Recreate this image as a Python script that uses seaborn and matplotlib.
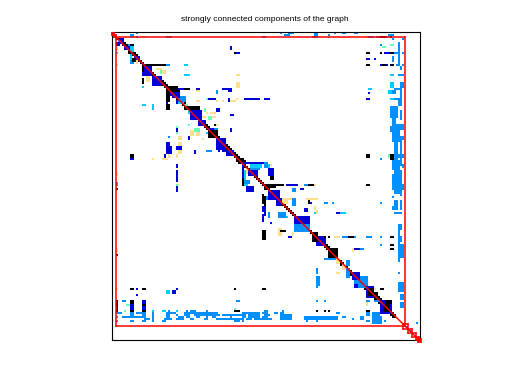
import matplotlib
matplotlib.use('Agg')
import matplotlib.pyplot as plt
from matplotlib.colors import ListedColormap
import seaborn as sns
import numpy as np

#matrix size and SCC blocks (first, last edge)
n = 154
blocks = [(0, 1), (1, 2), (2.0, 146.5), (145.6, 148), (147.9, 150), (149.9, 152), (151.9, 153.6), (153.2, 154.7)]

#black band along the diagonal, first and last column per row (-1 = none)
band_first = [-1, -1, -1, 2, 3, 4, 5, 6, 7, 8, 9, 10, 11, 12, 13, 14, 15, 16, 17, 18, 19, 20,
              21, 22, 23, 24, 25, 26, 27, 28, 29, 30, 31, 32, 33, 34, 35, 36, 37, 38, 39, 40,
              41, 42, 43, 44, 45, 46, 47, 48, 49, 50, 51, 52, 53, 54, 55, 56, 57, 58, 59, 60,
              61, 62, 62, 63, 65, 66, 67, 68, 69, 70, 71, 72, 73, 74, 75, 76, 77, 78, 79, 80,
              81, 82, 83, 84, 85, 86, 87, 88, 89, 90, 91, 92, 93, 94, 95, 96, 97, 98, 99, 100,
              101, 102, 103, 104, 105, 106, 107, 108, 108, 108, 108, 111, 112, 113, 114, 115, 116, 117, 118, 119,
              120, 121, 122, 123, 124, 125, 126, 127, 128, 129, 130, 131, 132, 133, 134, 135, 136, 137, 138, 139,
              140, -1, -1, -1, -1, -1, -1, -1, -1, -1, -1, -1, -1, -1][:154]
band_last = [-1, -1, -1, 3, 4, 6, 6, 7, 8, 9, 11, 12, 12, 13, 14, 15, 16, 17, 18, 19, 20, 21,
             23, 24, 25, 26, 27, 32, 33, 33, 32, 32, 33, 34, 35, 36, 37, 42, 43, 40, 41, 42,
             43, 44, 45, 46, 47, 48, 50, 51, 52, 52, 53, 54, 55, 56, 57, 58, 59, 60, 61, 62,
             63, 65, 66, 66, 66, 67, 68, 69, 70, 71, 72, 73, 74, 75, 85, 78, 78, 79, 80, 81,
             82, 84, 85, 86, 86, 87, 88, 89, 90, 91, 92, 93, 94, 95, 96, 97, 98, 99, 101, 102,
             103, 104, 105, 106, 107, 108, 112, 112, 112, 112, 112, 113, 114, 115, 116, 117, 118, 119, 121, 122,
             123, 124, 124, 125, 126, 127, 129, 130, 132, 132, 133, 134, 135, 136, 137, 137, 138, 139, 140, 141,
             141, -1, -1, -1, -1, -1, -1, -1, -1, -1, -1, -1, -1, -1][:154]

#cells: (first row, last row, first col, last col)
yellow = [(2, 2, 6, 6), (2, 2, 70, 70), (7, 8, 2, 2), (21, 21, 62, 63), (25, 27, 62, 63), (29, 29, 42, 43), (34, 34, 42, 43),
          (34, 34, 52, 52), (34, 34, 55, 55), (34, 34, 59, 61), (33, 33, 62, 62), (40, 40, 47, 47), (40, 40, 49, 51),
          (42, 42, 45, 46), (42, 42, 50, 51), (49, 51, 39, 40), (49, 51, 42, 43), (46, 46, 52, 52), (52, 53, 33, 34),
          (53, 53, 45, 45), (55, 56, 33, 34), (59, 60, 33, 34), (61, 62, 28, 28), (61, 62, 32, 32), (63, 63, 20, 20),
          (63, 63, 25, 27), (70, 71, 2, 2), (108, 109, 2, 2), (128, 128, 2, 2), (2, 2, 108, 108), (2, 2, 127, 127),
          (17, 17, 16, 17), (18, 18, 22, 24), (19, 20, 25, 26), (22, 24, 17, 18), (14, 15, 12, 12), (66, 66, 79, 79),
          (83, 85, 85, 87), (83, 83, 88, 90), (83, 83, 97, 102), (87, 88, 101, 101), (98, 101, 83, 84), (100, 101, 90, 90),
          (102, 102, 111, 113), (76, 76, 101, 101), (89, 90, 102, 102), (68, 70, 67, 67), (113, 115, 112, 113), (116, 118, 115, 116),
          (120, 120, 112, 113), (108, 109, 120, 120), (126, 127, 121, 122), (128, 128, 130, 131), (134, 136, 127, 127),
          (146, 146, 146, 146)]
green = [(2, 2, 15, 16), (16, 16, 2, 2), (19, 20, 24, 24), (33, 33, 47, 47), (38, 39, 46, 46), (42, 43, 48, 49), (46, 46, 38, 38),
         (48, 49, 41, 43), (47, 47, 32, 32), (50, 50, 32, 32), (76, 76, 32, 32), (6, 6, 139, 140), (7, 7, 135, 136),
         (2, 2, 138, 138), (61, 62, 138, 138), (136, 136, 7, 8), (139, 139, 6, 6), (138, 138, 61, 61),
         (36, 37, 36, 37)]
cyan = [(2, 2, 9, 10), (10, 10, 2, 2), (7, 9, 9, 10), (11, 13, 9, 9), (16, 16, 36, 37), (21, 21, 36, 38), (27, 27, 15, 15),
        (36, 36, 15, 16), (34, 35, 33, 35), (36, 38, 20, 20), (39, 40, 38, 38), (52, 52, 49, 51), (66, 67, 69, 74),
        (69, 74, 65, 66), (75, 76, 66, 67), (66, 67, 76, 78), (21, 21, 139, 140),
        (25, 27, 139, 140), (29, 30, 138, 139), (33, 33, 139, 140), (28, 28, 128, 129), (129, 130, 27, 28),
        (139, 139, 20, 20), (139, 139, 25, 26), (139, 139, 32, 32), (90, 90, 101, 101), (90, 90, 114, 116),
        (92, 92, 87, 87), (50, 50, 47, 50)]
azure = [(0, 0, 12, 12), (1, 1, 9, 10), (2, 2, 12, 12), (2, 2, 27, 29), (2, 2, 75, 76), (4, 4, 3, 3), (6, 7, 8, 8),
         (14, 15, 9, 10), (29, 30, 52, 52), (48, 49, 51, 52), (52, 52, 28, 28), (59, 59, 47, 49), (75, 76, 2, 2),
         (16, 16, 27, 28), (32, 34, 33, 36), (74, 75, 65, 68), (122, 126, 123, 127), (143, 145, 130, 134),
         (0, 0, 84, 84), (0, 0, 88, 90), (0, 0, 101, 102), (0, 0, 111, 111), (0, 0, 115, 116), (0, 0, 121, 122),
         (1, 1, 86, 88), (1, 1, 101, 102), (1, 1, 108, 108), (1, 1, 138, 140), (2, 2, 100, 102), (2, 2, 128, 130),
         (2, 2, 132, 134), (2, 2, 137, 137), (3, 3, 140, 140), (3, 3, 145, 145), (6, 6, 134, 134),
         (5, 15, 143, 143), (10, 10, 141, 143), (10, 10, 145, 145), (12, 14, 140, 140), (16, 16, 142, 143), (16, 16, 145, 145),
         (17, 18, 144, 144), (21, 21, 143, 145), (25, 27, 144, 145), (28, 28, 141, 144), (29, 30, 140, 141), (29, 32, 144, 144),
         (33, 33, 141, 144), (34, 36, 143, 144), (37, 38, 139, 142), (39, 42, 139, 142), (39, 43, 144, 144),
         (43, 50, 140, 141), (46, 50, 140, 143), (47, 49, 139, 141), (46, 48, 144, 145), (50, 54, 140, 143), (52, 53, 144, 145),
         (54, 64, 141, 142), (53, 66, 144, 144), (61, 62, 143, 145), (63, 63, 134, 134), (64, 66, 140, 144), (66, 67, 145, 145),
         (67, 68, 140, 143), (69, 70, 141, 144), (71, 74, 140, 144), (74, 75, 140, 144),
         (65, 67, 76, 77), (68, 68, 69, 73),
         (76, 78, 140, 145), (76, 76, 96, 97), (78, 79, 90, 91), (79, 81, 144, 144), (79, 80, 141, 143), (82, 83, 76, 77), (82, 82, 140, 140),
         (83, 86, 90, 91), (84, 86, 141, 142), (84, 86, 144, 144), (85, 85, 106, 107), (85, 85, 110, 110), (85, 85, 134, 134),
         (87, 88, 140, 142), (87, 88, 144, 144), (90, 92, 83, 86), (90, 92, 78, 78), (90, 90, 141, 144),
         (96, 99, 91, 98), (96, 98, 143, 144), (98, 114, 143, 143), (102, 104, 144, 144), (106, 112, 144, 145),
         (102, 102, 115, 118), (102, 102, 121, 121), (102, 102, 127, 129), (102, 102, 134, 134), (106, 106, 134, 134),
         (108, 108, 123, 125), (113, 113, 106, 111), (114, 116, 117, 118), (118, 120, 102, 102), (122, 122, 102, 102),
         (122, 126, 102, 103), (118, 122, 117, 118), (120, 120, 143, 143), (125, 129, 143, 145), (126, 127, 102, 102),
         (122, 127, 121, 126),
         (128, 128, 134, 134), (131, 133, 144, 145), (134, 134, 127, 128), (134, 134, 131, 133),
         (135, 137, 144, 145), (134, 134, 62, 63), (134, 134, 5, 6), (134, 134, 102, 102), (134, 134, 106, 106),
         (139, 139, 28, 28), (139, 139, 37, 37), (139, 139, 39, 41), (139, 139, 47, 47), (139, 139, 76, 77), (139, 139, 85, 85),
         (140, 140, 2, 4), (140, 140, 9, 10), (140, 140, 12, 14), (140, 140, 15, 16), (140, 140, 20, 20), (140, 140, 27, 31),
         (140, 140, 36, 52), (140, 140, 65, 73), (140, 140, 75, 77), (140, 140, 81, 82), (140, 140, 84, 85), (140, 140, 112, 113),
         (141, 141, 9, 10), (141, 141, 15, 16), (141, 141, 20, 20), (141, 141, 27, 28), (141, 141, 32, 32), (141, 141, 36, 38),
         (141, 141, 41, 53), (141, 141, 55, 66), (141, 141, 68, 73), (141, 141, 76, 78), (141, 141, 84, 89),
         (142, 142, 2, 2), (142, 142, 5, 16), (142, 142, 20, 20), (142, 142, 27, 28), (142, 142, 33, 35), (142, 142, 37, 38),
         (142, 142, 42, 43), (142, 142, 47, 47), (142, 142, 50, 51), (142, 142, 59, 59), (142, 142, 65, 66), (142, 142, 68, 73),
         (142, 142, 75, 77), (142, 142, 84, 89), (142, 143, 96, 112), (142, 142, 115, 116),
         (143, 143, 16, 18), (143, 143, 20, 20), (143, 143, 26, 29), (143, 143, 32, 35), (143, 143, 39, 40), (143, 143, 46, 47),
         (143, 143, 52, 65), (143, 143, 67, 69), (143, 143, 71, 79), (143, 143, 84, 89), (143, 143, 96, 98), (143, 143, 120, 120),
         (142, 143, 124, 125), (142, 143, 130, 134),
         (144, 144, 2, 2), (144, 144, 9, 10), (144, 144, 15, 16), (144, 144, 20, 20), (144, 144, 25, 26), (144, 144, 61, 63),
         (144, 144, 65, 65), (144, 144, 97, 97), (144, 144, 102, 102), (144, 144, 127, 128), (144, 144, 131, 132), (144, 144, 136, 136),
         (140, 141, 127, 128), (140, 143, 130, 133), (145, 145, 152, 152), (147, 147, 147, 147), (149, 149, 149, 149)]
blue = [(3, 5, 4, 5), (5, 6, 2, 3), (7, 8, 6, 8), (7, 8, 59, 59), (10, 10, 62, 63), (10, 10, 136, 138), (12, 13, 11, 13), (13, 13, 127, 128), (13, 13, 131, 131),
        (16, 16, 134, 134), (16, 16, 137, 137), (17, 21, 15, 19), (22, 26, 20, 24),
        (28, 28, 33, 35), (28, 28, 42, 43), (28, 28, 55, 59), (29, 29, 58, 59), (30, 30, 128, 128), (33, 33, 48, 49),
        (33, 33, 50, 51), (33, 34, 58, 58), (33, 33, 66, 67), (33, 33, 68, 73), (33, 33, 76, 78), (33, 33, 127, 128),
        (29, 31, 29, 31), (30, 32, 30, 33), (34, 35, 32, 32), (34, 36, 27, 27), (38, 39, 52, 53), (41, 41, 59, 60), (39, 43, 39, 44),
        (44, 46, 43, 46), (48, 49, 32, 32), (48, 49, 48, 50), (48, 49, 59, 59), (52, 53, 38, 38), (53, 58, 52, 56),
        (55, 60, 27, 28), (57, 60, 27, 29), (57, 58, 32, 34), (59, 60, 41, 41), (59, 59, 53, 53), (59, 59, 55, 56),
        (61, 62, 26, 26), (59, 61, 57, 60), (63, 63, 9, 10), (65, 65, 65, 75), (66, 67, 32, 32), (66, 72, 65, 65),
        (69, 74, 32, 32), (69, 71, 68, 72), (68, 71, 78, 80), (77, 79, 32, 32), (78, 78, 2, 2),
        (79, 83, 78, 83), (83, 86, 82, 84), (82, 85, 75, 75), (87, 91, 76, 76), (76, 76, 87, 92), (78, 78, 94, 95), (87, 89, 75, 75), (91, 94, 75, 75),
        (77, 79, 67, 70), (85, 85, 98, 99), (88, 89, 96, 97), (90, 90, 112, 113), (92, 95, 91, 98), (95, 95, 79, 79), (102, 102, 88, 89),
        (102, 106, 102, 106), (108, 108, 121, 123), (111, 111, 2, 2), (120, 123, 120, 123), (126, 127, 121, 122), (128, 128, 12, 12), (128, 128, 32, 32),
        (129, 130, 30, 31), (131, 131, 12, 12), (127, 132, 127, 130), (134, 135, 15, 16), (134, 138, 9, 10), (137, 138, 2, 2),
        (137, 138, 15, 16), (134, 140, 134, 139), (99, 100, 75, 76)]
black = [(6, 6, 5, 7), (6, 6, 9, 10), (10, 10, 8, 10), (13, 14, 10, 11), (14, 14, 13, 14), (10, 10, 61, 61), (16, 16, 15, 22), (16, 16, 23, 26), (17, 19, 15, 15), (23, 25, 15, 15), (28, 28, 36, 38),
         (27, 34, 27, 28), (27, 29, 28, 32), (36, 38, 27, 28), (37, 38, 36, 43),
         (46, 46, 51, 51), (46, 47, 46, 47), (49, 52, 48, 52), (61, 62, 9, 10), (73, 76, 65, 65), (2, 2, 134, 136), (2, 2, 139, 139), (10, 10, 127, 128),
         (10, 10, 134, 134), (10, 10, 139, 140), (16, 16, 127, 128), (16, 16, 135, 136), (16, 16, 139, 140), (61, 62, 127, 128),
         (61, 63, 139, 140), (72, 73, 79, 80), (76, 77, 76, 81), (76, 76, 76, 85), (76, 76, 98, 100), (76, 76, 127, 128),
         (77, 78, 76, 78), (84, 85, 98, 98), (99, 99, 84, 86), (82, 86, 76, 76), (81, 85, 75, 75), (99, 103, 75, 76), (102, 102, 102, 102), (102, 102, 106, 106),
         (100, 104, 100, 102), (102, 102, 108, 108), (102, 102, 118, 120), (102, 102, 139, 140), (106, 106, 139, 140), (108, 108, 139, 140),
         (108, 112, 108, 112), (128, 131, 128, 130), (128, 128, 9, 10), (128, 128, 15, 16), (128, 128, 61, 61),
         (128, 128, 75, 76), (128, 128, 134, 135), (134, 136, 2, 2), (134, 135, 9, 10), (136, 136, 15, 16), (139, 139, 2, 2), (139, 139, 9, 10),
         (139, 139, 15, 16), (139, 139, 61, 63), (139, 139, 102, 102), (139, 139, 106, 106), (139, 139, 108, 108),
         (139, 139, 127, 128), (134, 135, 137, 139), (136, 139, 136, 138)]

#codes: 0 blank, 1 yellow, 2 green, 3 cyan, 4 azure, 5 blue, 6 black
colors = ['white', '#ffe08a', '#66ffb2', '#00ccff', '#0090ff', '#0000d8', 'black']
M = np.zeros((n, n), dtype=int)
for i in range(n):
    if band_first[i] >= 0:
        M[i, band_first[i]:band_last[i] + 1] = 6
for code, cells in [(1, yellow), (2, green), (3, cyan), (4, azure), (5, blue), (6, black)]:
    for r0, r1, c0, c1 in cells:
        M[r0:r1 + 1, c0:c1 + 1] = code

fig = plt.figure(figsize=(5.12, 3.84), dpi=100)
ax = fig.add_axes([112 / 512, 1 - 340 / 384, 308 / 512, 308 / 384])
sns.heatmap(M, cmap=ListedColormap(colors), vmin=0, vmax=6, cbar=False, ax=ax,
            xticklabels=False, yticklabels=False, square=False)

#frame
for s in ax.spines.values():
    s.set_visible(True)
    s.set_color('black')
    s.set_linewidth(0.8)

#diagonal and block outlines in red, the picture has them half a cell low
ax.plot([0, n], [0.5, n + 0.5], color='red', lw=1.05, clip_on=False, zorder=3)
for a, b in blocks:
    y0, y1 = a + 0.5, b + 0.5
    ax.plot([a, b], [y0, y0], color='red', lw=1.1, clip_on=False, zorder=3)
    ax.plot([a, b], [y1, y1], color='red', lw=1.1, clip_on=False, zorder=3)
    ax.plot([a, a], [y0, y1], color='red', lw=1.1, clip_on=False, zorder=3)
    ax.plot([b, b], [y0, y1], color='red', lw=1.1, clip_on=False, zorder=3)

ax.set_title('strongly connected components of the graph', fontsize=6.05,
             family='Liberation Sans', pad=7.8, x=0.495)
fig.savefig('out.png', dpi=100)
